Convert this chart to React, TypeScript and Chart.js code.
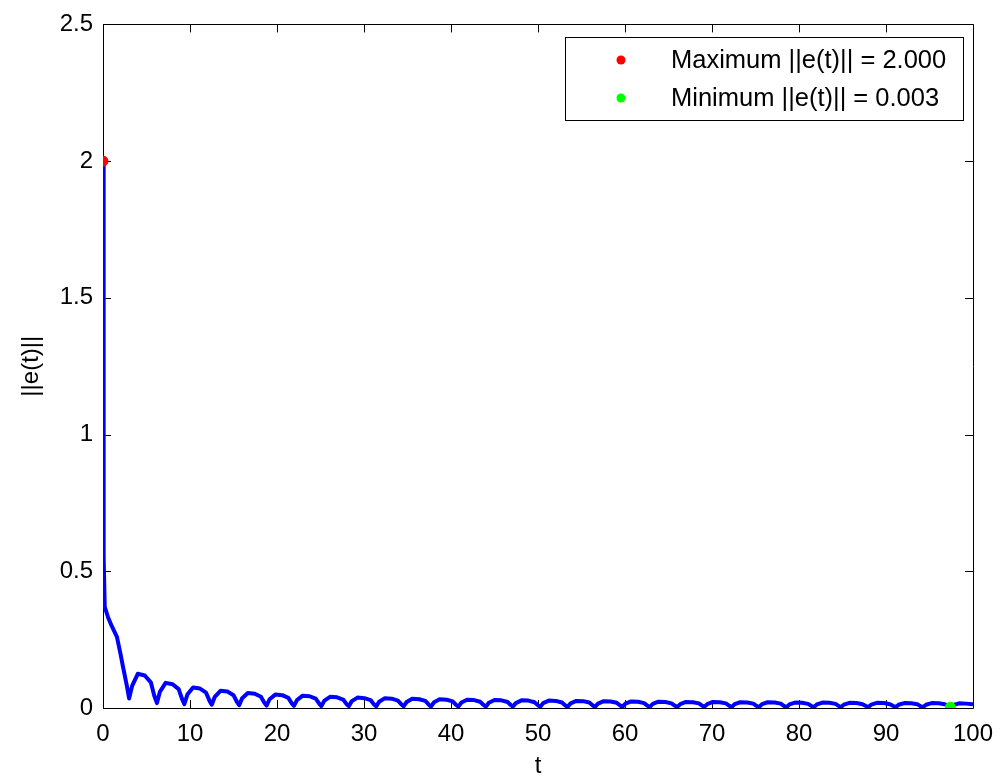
import React, { useEffect, useRef } from "react";
import { Chart, registerables } from "chart.js";

Chart.register(...registerables);

// time samples t
const tValues: number[] = [
  0, 0.05, 0.1, 0.2, 0.6, 1.0, 1.6, 2.0, 2.3, 2.75,
  3.0, 3.35, 4.0, 4.8, 5.5, 5.9,
  6.2, 6.55, 7.2, 8.0, 8.7, 9.1,
  9.35, 9.7, 10.35, 11.15, 11.85, 12.25,
  12.5, 12.85, 13.5, 14.3, 15.0, 15.4,
  15.65, 16.0, 16.65, 17.45, 18.15, 18.55,
  18.8, 19.15, 19.8, 20.6, 21.3, 21.7,
  21.95, 22.3, 22.95, 23.75, 24.45, 24.85,
  25.1, 25.45, 26.1, 26.9, 27.6, 28.0,
  28.25, 28.6, 29.25, 30.05, 30.75, 31.15,
  31.4, 31.75, 32.4, 33.2, 33.9, 34.3,
  34.55, 34.9, 35.55, 36.35, 37.05, 37.45,
  37.7, 38.05, 38.7, 39.5, 40.2, 40.6,
  40.85, 41.2, 41.85, 42.65, 43.35, 43.75,
  44.0, 44.35, 45.0, 45.8, 46.5, 46.9,
  47.1, 47.45, 48.1, 48.9, 49.6, 50.0,
  50.25, 50.6, 51.25, 52.05, 52.75, 53.15,
  53.4, 53.75, 54.4, 55.2, 55.9, 56.3,
  56.55, 56.9, 57.55, 58.35, 59.05, 59.45,
  59.7, 60.05, 60.7, 61.5, 62.2, 62.6,
  62.85, 63.2, 63.85, 64.65, 65.35, 65.75,
  66.0, 66.35, 67.0, 67.8, 68.5, 68.9,
  69.1, 69.45, 70.1, 70.9, 71.6, 72.0,
  72.25, 72.6, 73.25, 74.05, 74.75, 75.15,
  75.4, 75.75, 76.4, 77.2, 77.9, 78.3,
  78.55, 78.9, 79.55, 80.35, 81.05, 81.45,
  81.7, 82.05, 82.7, 83.5, 84.2, 84.6,
  84.8, 85.15, 85.8, 86.6, 87.3, 87.7,
  87.95, 88.3, 88.95, 89.75, 90.45, 90.85,
  91.1, 91.45, 92.1, 92.9, 93.6, 94.0,
  94.25, 94.6, 95.25, 96.05, 96.75, 97.15,
  97.4, 97.75, 98.4, 99.2, 100,
];

// error norm ||e(t)||
const eValues: number[] = [
  2.0, 1.1, 0.55, 0.37, 0.33, 0.3, 0.26, 0.2, 0.15, 0.08,
  0.035, 0.081, 0.125, 0.119, 0.094, 0.044,
  0.018, 0.06, 0.092, 0.087, 0.069, 0.032,
  0.014, 0.049, 0.075, 0.071, 0.056, 0.026,
  0.012, 0.041, 0.063, 0.06, 0.047, 0.022,
  0.01, 0.036, 0.055, 0.052, 0.041, 0.019,
  0.009, 0.032, 0.049, 0.047, 0.037, 0.017,
  0.008, 0.029, 0.045, 0.043, 0.034, 0.016,
  0.007, 0.027, 0.041, 0.039, 0.031, 0.014,
  0.007, 0.025, 0.038, 0.036, 0.029, 0.013,
  0.006, 0.023, 0.036, 0.034, 0.027, 0.013,
  0.006, 0.022, 0.034, 0.032, 0.026, 0.012,
  0.005, 0.021, 0.032, 0.03, 0.024, 0.011,
  0.005, 0.02, 0.03, 0.029, 0.023, 0.011,
  0.005, 0.019, 0.029, 0.028, 0.022, 0.01,
  0.005, 0.018, 0.028, 0.027, 0.021, 0.01,
  0.004, 0.018, 0.027, 0.026, 0.02, 0.009,
  0.004, 0.017, 0.026, 0.025, 0.02, 0.009,
  0.004, 0.016, 0.025, 0.024, 0.019, 0.009,
  0.004, 0.016, 0.024, 0.023, 0.018, 0.008,
  0.004, 0.015, 0.023, 0.022, 0.017, 0.008,
  0.004, 0.014, 0.022, 0.021, 0.017, 0.008,
  0.004, 0.014, 0.022, 0.021, 0.017, 0.008,
  0.003, 0.014, 0.021, 0.02, 0.016, 0.007,
  0.003, 0.014, 0.021, 0.02, 0.016, 0.007,
  0.003, 0.013, 0.02, 0.019, 0.015, 0.007,
  0.003, 0.013, 0.02, 0.019, 0.015, 0.007,
  0.003, 0.012, 0.019, 0.018, 0.014, 0.007,
  0.003, 0.012, 0.019, 0.018, 0.014, 0.007,
  0.003, 0.012, 0.018, 0.017, 0.014, 0.006,
  0.003, 0.012, 0.018, 0.017, 0.014, 0.006,
  0.003, 0.011, 0.017, 0.016, 0.014,
];

const maxPointT = [0];
const maxPointE = [2.0];
const minPointT = [97.4];
const minPointE = [0.003];

const xTicks = [0, 10, 20, 30, 40, 50, 60, 70, 80, 90, 100];
const yTicks = [0, 0.5, 1, 1.5, 2, 2.5];
const xTickLabels = ["0", "10", "20", "30", "40", "50", "60", "70", "80", "90", "100"];
const yTickLabels = ["0", "0.5", "1", "1.5", "2", "2.5"];

const legendLabels = ["Maximum ||e(t)|| = 2.000", "Minimum ||e(t)|| = 0.003"];
const legendColors = ["#ff0000", "#00ff00"];
const xTitle = "t";
const yTitle = "||e(t)||";

const FONT = '"Liberation Sans", Arial, sans-serif';

const framePlugin = {
  id: "matlabFrame",
  beforeDatasetsDraw(chart: any) {
    const { ctx, chartArea } = chart;
    const { left, right, top, bottom } = chartArea;
    const xs = chart.scales.x;
    const ys = chart.scales.y;
    ctx.save();
    ctx.strokeStyle = "#000";
    ctx.lineWidth = 1;
    ctx.beginPath();
    ctx.rect(Math.round(left) + 0.5, Math.round(top) + 0.5, Math.round(right - left), Math.round(bottom - top));
    ctx.stroke();
    const tl = 8;
    ctx.beginPath();
    xTicks.forEach((v) => {
      const px = Math.round(xs.getPixelForValue(v)) + 0.5;
      ctx.moveTo(px, bottom);
      ctx.lineTo(px, bottom - tl);
      ctx.moveTo(px, top);
      ctx.lineTo(px, top + tl);
    });
    yTicks.forEach((v) => {
      const py = Math.round(ys.getPixelForValue(v)) + 0.5;
      ctx.moveTo(left, py);
      ctx.lineTo(left + tl, py);
      ctx.moveTo(right, py);
      ctx.lineTo(right - tl, py);
    });
    ctx.stroke();
    ctx.restore();
  },
  afterDraw(chart: any) {
    const { ctx, chartArea } = chart;
    ctx.save();
    ctx.fillStyle = "#000";
    ctx.font = `24px ${FONT}`;
    ctx.textAlign = "center";
    ctx.textBaseline = "middle";
    ctx.fillText(xTitle, (chartArea.left + chartArea.right) / 2, 766);
    ctx.save();
    ctx.translate(31, (chartArea.top + chartArea.bottom) / 2);
    ctx.rotate(-Math.PI / 2);
    ctx.fillText(yTitle, 0, 0);
    ctx.restore();

    // legend box
    const bx = 565, by = 37, bw = 398, bh = 83;
    ctx.fillStyle = "#fff";
    ctx.fillRect(bx, by, bw, bh);
    ctx.strokeStyle = "#000";
    ctx.lineWidth = 1;
    ctx.strokeRect(bx + 0.5, by + 0.5, bw, bh);
    const rows = [60, 98];
    legendLabels.forEach((lab, i) => {
      ctx.fillStyle = legendColors[i];
      ctx.beginPath();
      ctx.arc(621, rows[i], 4.5, 0, Math.PI * 2);
      ctx.fill();
      ctx.fillStyle = "#000";
      ctx.font = `25.5px ${FONT}`;
      ctx.textAlign = "left";
      ctx.textBaseline = "middle";
      ctx.fillText(lab, 671, rows[i] + 1);
    });
    ctx.restore();
  },
};

export default function App() {
  const ref = useRef<HTMLCanvasElement | null>(null);
  useEffect(() => {
    if (!ref.current) return;
    const lineData = tValues.map((t, i) => ({ x: t, y: eValues[i] }));
    const chart = new Chart(ref.current, {
      type: "scatter",
      data: {
        datasets: [
          {
            label: "||e(t)||",
            data: lineData,
            showLine: true,
            borderColor: "#0000ff",
            borderWidth: 4,
            pointRadius: 0,
            tension: 0,
            borderJoinStyle: "round",
            order: 2,
          } as any,
          {
            label: legendLabels[0],
            data: maxPointT.map((t, i) => ({ x: t, y: maxPointE[i] })),
            showLine: false,
            pointRadius: 5,
            pointBackgroundColor: legendColors[0],
            pointBorderColor: legendColors[0],
            order: 0,
          } as any,
          {
            label: legendLabels[1],
            data: minPointT.map((t, i) => ({ x: t, y: minPointE[i] })),
            showLine: false,
            pointRadius: 5,
            pointBackgroundColor: legendColors[1],
            pointBorderColor: legendColors[1],
            order: 0,
          } as any,
        ],
      },
      options: {
        responsive: false,
        animation: false,
        devicePixelRatio: 1,
        layout: { padding: { left: 0, top: 22, right: 33, bottom: 0 } },
        plugins: { legend: { display: false }, tooltip: { enabled: false } },
        scales: {
          x: {
            type: "linear",
            min: 0,
            max: 100,
            grid: { display: false, drawTicks: false },
            border: { display: false },
            afterBuildTicks: (s: any) => {
              s.ticks = xTicks.map((v) => ({ value: v }));
            },
            afterFit: (s: any) => {
              s.height = 70;
            },
            ticks: {
              padding: 12,
              color: "#000",
              font: { family: FONT, size: 24 },
              maxRotation: 0,
              callback: (v: any) => {
                const i = xTicks.indexOf(Number(v));
                return i >= 0 ? xTickLabels[i] : "";
              },
            },
          },
          y: {
            type: "linear",
            min: 0,
            max: 2.5,
            grid: { display: false, drawTicks: false },
            border: { display: false },
            afterBuildTicks: (s: any) => {
              s.ticks = yTicks.map((v) => ({ value: v }));
            },
            afterFit: (s: any) => {
              s.width = 103;
            },
            ticks: {
              padding: 10,
              color: "#000",
              font: { family: FONT, size: 24 },
              callback: (v: any) => {
                const i = yTicks.indexOf(Number(v));
                return i >= 0 ? yTickLabels[i] : "";
              },
            },
          },
        },
      },
      plugins: [framePlugin],
    });
    return () => chart.destroy();
  }, []);
  return (
    <div style={{ position: "absolute", left: 0, top: 0, width: 1006, height: 778, background: "#fff" }}>
      <canvas ref={ref} width={1006} height={778} style={{ display: "block" }} />
    </div>
  );
}
